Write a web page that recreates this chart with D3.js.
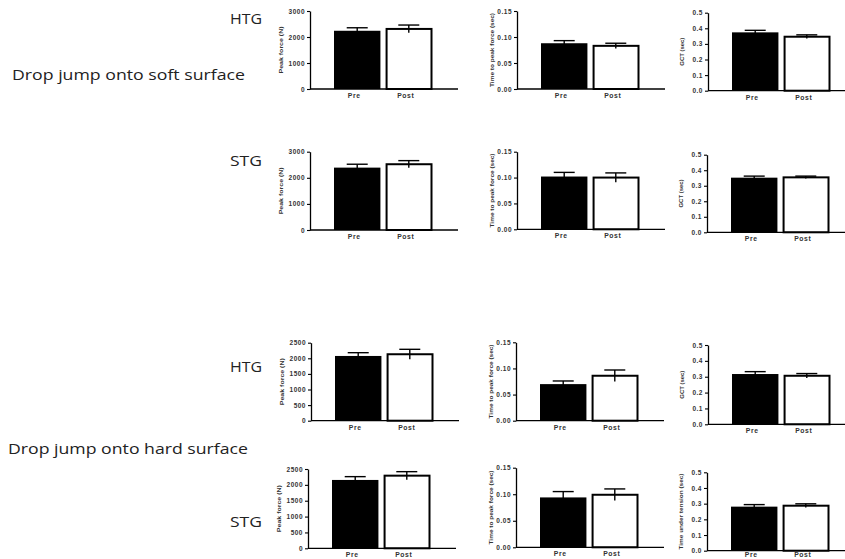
<!DOCTYPE html>
<html>
<head>
<meta charset="utf-8">
<script src="https://cdn.jsdelivr.net/npm/d3@7"></script>
<style>
  body { margin: 0; background: #fff; }
  .tick text { font-family: 'Liberation Sans', Arial, sans-serif; font-weight: bold; fill: #333; }
</style>
</head>
<body>
<div id="chart"></div>
<script>
// groups and labels
const groups = ['Pre', 'Post'];
const rowLabels = ['HTG', 'STG', 'HTG', 'STG'];
const sectionLabels = ['Drop jump onto soft surface', 'Drop jump onto hard surface'];
const yTitles = [
  ['Peak force (N)', 'Time to peak force (sec)', 'GCT (sec)'],
  ['Peak force (N)', 'Time to peak force (sec)', 'GCT (sec)'],
  ['Peak force (N)', 'Time to peak force (sec)', 'GCT (sec)'],
  ['Peak force (N)', 'Time to peak force (sec)', 'Time under tension (sec)']
];

// values per row: [Pre, Post]
const peakForceMean = [[2240, 2310], [2390, 2520], [2075, 2130], [2155, 2290]];
const peakForceSem = [[115, 150], [130, 138], [105, 158], [104, 126]];
const timeToPeakMean = [[0.088, 0.083], [0.102, 0.100], [0.070, 0.086], [0.094, 0.099]];
const timeToPeakSem = [[0.005, 0.005], [0.008, 0.009], [0.006, 0.011], [0.011, 0.011]];
const contactMean = [[0.374, 0.346], [0.352, 0.354], [0.317, 0.306], [0.281, 0.287]];
const contactSem = [[0.013, 0.012], [0.010, 0.008], [0.015, 0.014], [0.013, 0.012]];

// tick labels
const forceTicksSoft = [0, 1000, 2000, 3000];
const forceTicksHard = [0, 500, 1000, 1500, 2000, 2500];
const timeTicks = [0, 0.05, 0.10, 0.15];
const contactTicks = [0, 0.1, 0.2, 0.3, 0.4, 0.5];

const width = 845;
const height = 559;

const svg = d3.select('#chart').append('svg')
  .attr('width', width)
  .attr('height', height);

// layout of the grid
const colX = [[310, 517, 708], [310, 517, 707], [311, 516, 708], [308, 516, 707]];
const panelTop = [[11, 11, 12.7], [151.7, 151.7, 154.7], [342.7, 342.3, 345], [469, 467.7, 472.3]];
const panelZero = [[89, 89, 90.7], [230, 229.3, 232.3], [420.7, 420.7, 424.3], [548.3, 547.3, 550.7]];
const titleOffset = [-29, -25, -26];
const rowLabelY = [19, 161, 367, 522];
const sectionY = [75, 449];
const sectionX = [12, 8];
const sectionW = [233, 240];

function panelSpec(r, c) {
  if (c === 0) {
    const ticks = r < 2 ? forceTicksSoft : forceTicksHard;
    return { mean: peakForceMean[r], sem: peakForceSem[r], ticks, fmt: d3.format('d') };
  }
  if (c === 1) {
    return { mean: timeToPeakMean[r], sem: timeToPeakSem[r], ticks: timeTicks, fmt: d3.format('.2f') };
  }
  return { mean: contactMean[r], sem: contactSem[r], ticks: contactTicks, fmt: d3.format('.1f') };
}

function drawPanel(r, c) {
  const spec = panelSpec(r, c);
  const x0 = colX[r][c];
  const top = panelTop[r][c];
  const zero = panelZero[r][c];

  const g = svg.append('g').attr('class', 'panel');

  const y = d3.scaleLinear()
    .domain([0, d3.max(spec.ticks)])
    .range([zero, top]);

  const x = d3.scaleBand()
    .domain(groups)
    .range([x0 + 24, x0 + 24 + 98])
    .paddingInner(0.1);

  const rows = groups.map((gName, i) => ({
    group: gName,
    mean: spec.mean[i],
    sem: spec.sem[i]
  }));

  // bars
  g.selectAll('.bar')
    .data(rows)
    .enter().append('rect')
    .attr('class', 'bar')
    .attr('x', (d) => x(d.group) + (d.group === 'Post' ? 1 : 0))
    .attr('width', (d) => x.bandwidth() - (d.group === 'Post' ? 1.5 : 0))
    .attr('y', (d) => y(d.mean))
    .attr('height', (d) => y(0) - y(d.mean))
    .style('fill', (d) => d.group === 'Pre' ? '#000' : '#fff')
    .style('stroke', '#000')
    .style('stroke-width', (d) => d.group === 'Pre' ? 0 : 2);

  // error bars
  const err = g.selectAll('.err')
    .data(rows)
    .enter().append('g')
    .attr('class', 'err')
    .style('stroke', '#000')
    .style('stroke-width', 1.4);

  err.append('line')
    .attr('x1', (d) => x(d.group) + x.bandwidth() / 2)
    .attr('x2', (d) => x(d.group) + x.bandwidth() / 2)
    .attr('y1', (d) => y(d.mean - d.sem))
    .attr('y2', (d) => y(d.mean + d.sem));

  err.append('line')
    .attr('x1', (d) => x(d.group) + x.bandwidth() / 2 - 10.5)
    .attr('x2', (d) => x(d.group) + x.bandwidth() / 2 + 10.5)
    .attr('y1', (d) => y(d.mean + d.sem))
    .attr('y2', (d) => y(d.mean + d.sem));

  // y axis
  const yAxis = d3.axisLeft(y)
    .tickValues(spec.ticks)
    .tickFormat(spec.fmt)
    .tickSize(3)
    .tickSizeOuter(0)
    .tickPadding(2);

  const ya = g.append('g')
    .attr('transform', 'translate(' + x0 + ',0)')
    .call(yAxis);
  ya.select('.domain').style('stroke-width', 1.3);
  ya.selectAll('.tick line').style('stroke-width', 1.1);
  ya.selectAll('.tick text')
    .style('font-size', '6.5px')
    .style('letter-spacing', '0.5px');

  // x axis line
  g.append('line')
    .attr('x1', x0)
    .attr('x2', x0 + 148)
    .attr('y1', zero)
    .attr('y2', zero)
    .style('stroke', '#000')
    .style('stroke-width', 1.3);

  g.selectAll('.xlabel')
    .data(groups)
    .enter().append('text')
    .attr('class', 'xlabel')
    .attr('x', (d) => x(d) + x.bandwidth() / 2 - 3)
    .attr('y', Math.min(zero + 9, height - 2))
    .attr('text-anchor', 'middle')
    .style('font-family', "'Liberation Sans', Arial, sans-serif")
    .style('font-weight', 'bold')
    .style('font-size', '6.8px')
    .style('letter-spacing', '0.6px')
    .style('fill', '#333')
    .text((d) => d);

  // y title
  const titleLen = { 'Peak force (N)': 47, 'Time to peak force (sec)': 74, 'GCT (sec)': 28, 'Time under tension (sec)': 76 };
  g.append('text')
    .attr('transform', 'translate(' + (x0 + titleOffset[c]) + ',' + ((top + zero) / 2) + ') rotate(-90)')
    .attr('text-anchor', 'middle')
    .attr('dy', '0.32em')
    .attr('textLength', titleLen[yTitles[r][c]])
    .attr('lengthAdjust', 'spacingAndGlyphs')
    .style('font-family', "'Liberation Sans', Arial, sans-serif")
    .style('font-weight', 'bold')
    .style('font-size', '6.2px')
    .style('fill', '#333')
    .text(yTitles[r][c]);
}

for (let r = 0; r < 4; r++) {
  for (let c = 0; c < 3; c++) {
    drawPanel(r, c);
  }
}

// row labels
svg.selectAll('.row-label')
  .data(rowLabels)
  .enter().append('text')
  .attr('class', 'row-label')
  .attr('x', 230)
  .attr('y', (d, i) => rowLabelY[i])
  .attr('dy', '0.35em')
  .attr('textLength', 32)
  .attr('lengthAdjust', 'spacingAndGlyphs')
  .style('font-family', "'Open Sans', sans-serif")
  .style('font-size', '15px')
  .style('fill', '#222')
  .text((d) => d);

svg.selectAll('.section-label')
  .data(sectionLabels)
  .enter().append('text')
  .attr('class', 'section-label')
  .attr('x', (d, i) => sectionX[i])
  .attr('y', (d, i) => sectionY[i])
  .attr('dy', '0.35em')
  .attr('textLength', (d, i) => sectionW[i])
  .attr('lengthAdjust', 'spacingAndGlyphs')
  .style('font-family', "'Open Sans', sans-serif")
  .style('font-size', '15px')
  .style('fill', '#222')
  .text((d) => d);
</script>
</body>
</html>
